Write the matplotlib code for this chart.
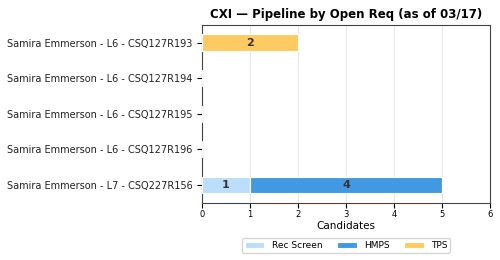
import numpy as np
import matplotlib
matplotlib.use("Agg")
import matplotlib.pyplot as plt

reqs = ["Samira Emmerson - L6 - CSQ127R193",
        "Samira Emmerson - L6 - CSQ127R194",
        "Samira Emmerson - L6 - CSQ127R195",
        "Samira Emmerson - L6 - CSQ127R196",
        "Samira Emmerson - L7 - CSQ227R156"]
stages = ["Rec Screen", "HMPS", "TPS"]
rec_screen = [0, 0, 0, 0, 1]
hmps = [0, 0, 0, 0, 4]
tps = [2, 0, 0, 0, 0]
colors = ["#BBDEFB", "#4299E1", "#FFCA62"]

fig, ax = plt.subplots(figsize=(5, 2.6), dpi=100)
y = np.arange(len(reqs))[::-1]
left = np.zeros(len(reqs))
for name, vals, c in zip(stages, [rec_screen, hmps, tps], colors):
    vals = np.array(vals, dtype=float)
    bars = ax.barh(y, vals, left=left, height=0.45, color=c, edgecolor="white",
                   linewidth=0.8, label=name, zorder=3)
    for b, v in zip(bars, vals):
        if v > 0:
            ax.text(b.get_x() + b.get_width() / 2, b.get_y() + b.get_height() / 2,
                    f"{int(v)}", ha="center", va="center", fontsize=8,
                    fontweight="bold", color="#333333", zorder=4)
    left += vals

ax.set_yticks(y)
ax.set_yticklabels(reqs, fontsize=7, color="#222222")
ax.set_xlim(0, 6)
ax.set_ylim(-0.5, len(reqs) - 0.5)
ax.set_xticks(range(7))
ax.tick_params(axis="x", labelsize=6, pad=2)
ax.set_xlabel("Candidates", fontsize=7.5, labelpad=1)
ax.set_title("CXI \u2014 Pipeline by Open Req (as of 03/17)", fontsize=8.5,
             fontweight="bold", pad=5)
ax.grid(axis="x", color="#e6e6e6", linewidth=0.8, zorder=0)
for s in ax.spines.values():
    s.set_color("#444444")

ax.legend(loc="upper center", bbox_to_anchor=(0.5, -0.175), ncol=3, fontsize=6.5,
          frameon=True, handlelength=2.2, columnspacing=1.6,
          borderpad=0.3, handleheight=0.6)

fig.subplots_adjust(left=0.404, right=0.98, top=0.905, bottom=0.22)
fig.savefig("out.png", dpi=100)
